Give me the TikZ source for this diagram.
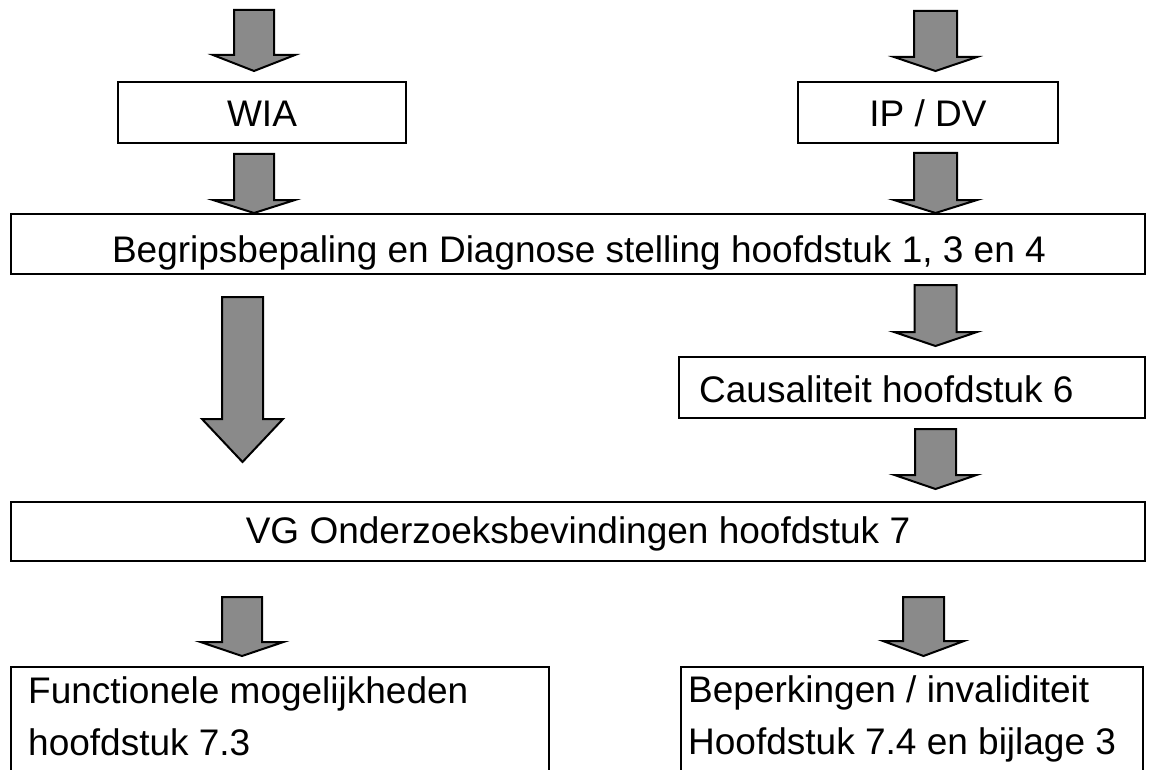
\documentclass[tikz,border=0pt]{standalone}
\usepackage{fontspec}
\setmainfont{Liberation Sans}
\definecolor{arrowgray}{RGB}{138,138,138}
\tikzset{
  box/.style={draw=black, line width=2pt, fill=white, rectangle, inner sep=0pt},
  txt/.style={inner sep=0pt, font=\fontsize{37}{52}\selectfont, text=black},
  barrow/.style={draw=black, line width=2pt, fill=arrowgray, line join=miter},
}
\newcommand{\blockarrow}[6]{%
  \draw[barrow] ({#1-#5},{#2}) -- ({#1+#5},{#2}) -- ({#1+#5},{#3}) -- ({#1+#6},{#3})
     -- ({#1},{#4}) -- ({#1-#6},{#3}) -- ({#1-#5},{#3}) -- cycle;}
\begin{document}
\begin{tikzpicture}[x=1pt,y=-1pt]
\useasboundingbox (0,0) rectangle (1150,770);
\clip (0,0) rectangle (1150,770);
\fill[white] (0,0) rectangle (1150,770);

% boxes
\node[box, minimum width=288pt, minimum height=61pt] (wia)  at (262,112.5) {};
\node[box, minimum width=260pt, minimum height=61pt] (ipdv) at (928,112.5) {};
\node[box, minimum width=1134pt, minimum height=60pt] (begrip) at (578,244) {};
\node[box, minimum width=466pt, minimum height=61pt] (caus) at (912,387.5) {};
\node[box, minimum width=1134pt, minimum height=59pt] (vg) at (578,531.5) {};
\node[box, minimum width=538pt, minimum height=160pt] (func) at (280,747) {};
\node[box, minimum width=462pt, minimum height=160pt] (bep) at (912,747) {};

% texts
\node[txt, anchor=base] (twia) at (262,127) {WIA};
\node[txt, anchor=base] (tipdv) at (928,127) {IP / DV};
\node[txt, anchor=base] (tbegrip) at (579,262) {Begripsbepaling en Diagnose stelling hoofdstuk 1, 3 en 4};
\node[txt, anchor=base west] (tcaus) at (699,402) {Causaliteit hoofdstuk 6};
\node[txt, anchor=base] (tvg) at (578,543) {VG Onderzoeksbevindingen hoofdstuk 7};
\node[txt, anchor=base west, align=left] (tfunc) at (28,755) {Functionele mogelijkheden\\hoofdstuk 7.3};
\node[txt, anchor=base west, align=left] (tbep) at (688,754) {Beperkingen / invaliditeit\\Hoofdstuk 7.4 en bijlage 3};

% block arrows
\blockarrow{254}{10}{55}{71}{20}{41}
\blockarrow{935.5}{11}{57}{71}{21.5}{41.5}
\blockarrow{254}{154}{200}{213}{20}{41}
\blockarrow{935.5}{153}{200}{213}{21.5}{41.5}
\blockarrow{242.5}{297}{419}{462}{20.5}{40.5}
\blockarrow{935.5}{285}{332}{346}{21}{41.5}
\blockarrow{935.5}{429}{475}{489}{20.5}{41}
\blockarrow{242}{597}{642}{656}{20}{41.5}
\blockarrow{923.5}{597}{641}{656}{20.5}{40.5}
\end{tikzpicture}
\end{document}
